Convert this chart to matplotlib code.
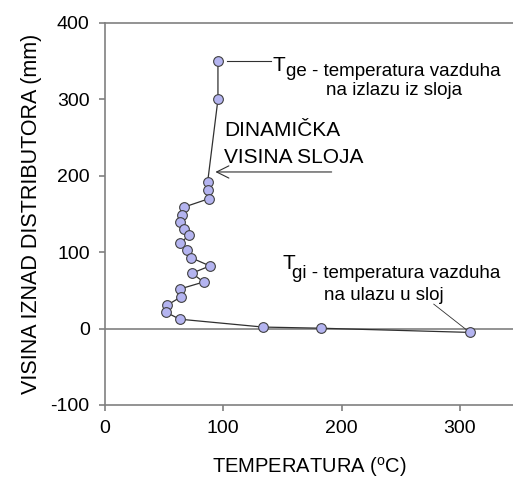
import matplotlib
matplotlib.use("Agg")
import matplotlib.pyplot as plt

plt.rcParams['font.family'] = ['Liberation Sans', 'DejaVu Sans']
plt.rcParams['mathtext.fontset'] = 'custom'
plt.rcParams['mathtext.rm'] = 'Liberation Sans'
plt.rcParams['mathtext.it'] = 'Liberation Sans'
plt.rcParams['axes.unicode_minus'] = False

# temperature (C) vs height above distributor (mm)
temp = [95.5, 95.5, 86.8, 86.8, 87.8, 66.8, 65.4, 63.2, 66.8, 71.0, 63.7, 69.0,
        72.4, 88.7, 73.5, 83.4, 63.7, 64.2, 52.5, 51.4, 63.2, 133.6, 182.8, 308.8]
height = [350, 300, 192, 181, 170, 159, 149, 140, 130, 122, 112, 103,
          93, 82, 72.5, 61, 52, 41.5, 30.6, 21.5, 12.3, 2, 0.5, -5]

xticks = [0, 100, 200, 300]
yticks = [-100, 0, 100, 200, 300, 400]

fig = plt.figure(figsize=(5.13, 4.79), dpi=100)
ax = fig.add_axes([0.2047, 0.1545, 0.7953, 0.7975])

ax.axhline(0, color='#808080', lw=1.2, zorder=1)
ax.plot(temp, height, '-', color='#303030', lw=0.9, zorder=2)
ax.plot(temp, height, 'o', ms=7, mfc='#b4b4f0', mec='#404040', mew=0.8, zorder=3)

ax.set_xlim(0, 345)
ax.set_ylim(-100, 400)
ax.set_xticks(xticks)
ax.set_yticks(yticks)
ax.tick_params(labelsize=14, length=4, color='#808080', width=1.2, pad=7)

for s in ['left', 'bottom', 'top']:
    ax.spines[s].set_color('#808080')
    ax.spines[s].set_linewidth(1.2)
ax.spines['right'].set_visible(False)

ax.set_xlabel('TEMPERATURA ($^{\\mathregular{o}}$C)', fontsize=14.5, labelpad=13)
ax.set_ylabel('VISINA IZNAD DISTRIBUTORA (mm)', fontsize=15.5, labelpad=6)

# annotations
ax.plot([103, 140], [350, 350], color='#303030', lw=0.8)
ax.text(141.5, 337, 'T', fontsize=15, va='baseline')
ax.text(153, 330, 'ge - temperatura vazduha', fontsize=13.5, va='baseline')
ax.text(187, 306, 'na izlazu iz sloja', fontsize=13.5, va='baseline')

ax.text(101, 252, 'DINAMIČKA', fontsize=15, va='baseline')
ax.text(101, 217, 'VISINA SLOJA', fontsize=15, va='baseline')
ax.annotate('', xy=(91, 205), xytext=(194, 205),
            arrowprops=dict(arrowstyle='->', color='#303030', lw=0.8,
                            mutation_scale=22))

ax.text(150, 78, 'T', fontsize=15, va='baseline')
ax.text(158.4, 66, 'gi - temperatura vazduha', fontsize=13.5, va='baseline')
ax.text(185.3, 38, 'na ulazu u sloj', fontsize=13.5, va='baseline')
ax.plot([278, 306], [32, -2], color='#303030', lw=0.6)

fig.savefig('out.png', dpi=100)
